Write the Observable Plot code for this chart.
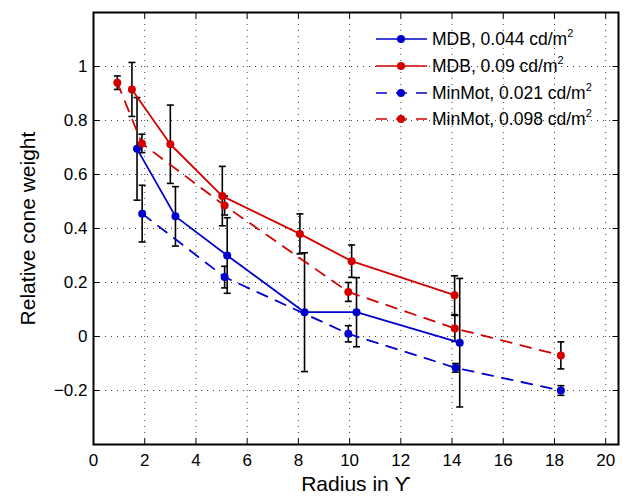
<!DOCTYPE html>
<html>
<head>
<meta charset="utf-8">
<script src="https://cdn.jsdelivr.net/npm/d3@7"></script>
<script src="https://cdn.jsdelivr.net/npm/@observablehq/plot@0.6"></script>
<style>
  body { margin: 0; background: white; }
  #wrap { position: relative; width: 635px; height: 497px; font-family: "Liberation Sans", Arial, sans-serif; }
  #legend { position: absolute; left: 0; top: 0; }
  .row { position: absolute; left: 372px; height: 24px; display: flex; align-items: center; font-size: 17.5px; white-space: nowrap; color: #000; }
  .row svg { margin-right: 4px; }
  .row sup { font-size: 11px; vertical-align: 8px; line-height: 0; }
</style>
</head>
<body>
<div id="wrap"><div id="legend"></div></div>
<script>
// ---- data ----
const seriesNames = ["MDB, 0.044 cd/m", "MDB, 0.09 cd/m", "MinMot, 0.021 cd/m", "MinMot, 0.098 cd/m"];
const seriesColors = ["#0000cc", "#d40000", "#0000cc", "#d40000"];
const seriesDash = [null, null, "11,9", "11,9"];

const radMDB044 = [1.7, 3.2, 5.22, 8.24, 10.27, 14.3];
const valMDB044 = [0.695, 0.445, 0.30, 0.09, 0.09, -0.023];
const errMDB044 = [0.19, 0.11, 0.14, 0.22, 0.128, 0.238];

const radMDB09 = [1.5, 3.0, 5.03, 8.06, 10.08, 14.1];
const valMDB09 = [0.915, 0.712, 0.52, 0.38, 0.279, 0.153];
const errMDB09 = [0.1, 0.145, 0.11, 0.074, 0.06, 0.072];

const radMM021 = [1.9, 5.12, 9.95, 14.14, 18.25];
const valMM021 = [0.455, 0.22, 0.01, -0.116, -0.2];
const errMM021 = [0.105, 0.04, 0.03, 0.016, 0.018];

const radMM098 = [0.93, 1.89, 5.12, 9.95, 14.11, 18.25];
const valMM098 = [0.94, 0.715, 0.485, 0.165, 0.03, -0.07];
const errMM098 = [0.025, 0.034, 0.035, 0.035, 0.048, 0.05];

const xTicks = [0, 2, 4, 6, 8, 10, 12, 14, 16, 18, 20];
const yTicks = [-0.4, -0.2, 0, 0.2, 0.4, 0.6, 0.8, 1, 1.2];
const yTickLabels = [-0.2, 0, 0.2, 0.4, 0.6, 0.8, 1];
const xLabel = "Radius in \u03D2";
const yLabel = "Relative cone weight";

// ---- build table ----
const rads = [radMDB044, radMDB09, radMM021, radMM098];
const vals = [valMDB044, valMDB09, valMM021, valMM098];
const errs = [errMDB044, errMDB09, errMM021, errMM098];
const rows = [];
rads.forEach((rs, s) => rs.forEach((r, i) => rows.push({s, r, v: vals[s][i], e: errs[s][i]})));

// custom symbols
const sym = (f) => ({draw(ctx) { f(ctx); }});
const capSym = sym(c => { c.moveTo(-3.5, 0); c.lineTo(3.5, 0); });
const tickUp = sym(c => { c.moveTo(0, 0); c.lineTo(0, -6); });
const tickDown = sym(c => { c.moveTo(0, 0); c.lineTo(0, 6); });
const tickRight = sym(c => { c.moveTo(0, 0); c.lineTo(6, 0); });
const tickLeft = sym(c => { c.moveTo(0, 0); c.lineTo(-6, 0); });

const marks = [
  Plot.gridX(xTicks.slice(1), {stroke: "#000", strokeOpacity: 0.75, strokeDasharray: "1,5"}),
  Plot.gridY(yTicks.slice(1, -1), {stroke: "#000", strokeOpacity: 0.75, strokeDasharray: "1,5"}),
  Plot.dot(xTicks, {x: d => d, frameAnchor: "bottom", symbol: tickUp, stroke: "black", strokeWidth: 1, r: 3}),
  Plot.dot(xTicks, {x: d => d, frameAnchor: "top", symbol: tickDown, stroke: "black", strokeWidth: 1, r: 3}),
  Plot.dot(yTicks, {y: d => d, frameAnchor: "left", symbol: tickRight, stroke: "black", strokeWidth: 1, r: 3}),
  Plot.dot(yTicks, {y: d => d, frameAnchor: "right", symbol: tickLeft, stroke: "black", strokeWidth: 1, r: 3}),
  Plot.axisX(xTicks, {tickSize: 0, tickPadding: 9, fontSize: 17, label: null}),
  Plot.axisY(yTickLabels, {tickSize: 0, tickPadding: 6, fontSize: 17, label: null, tickFormat: d => d === 0 ? "0" : (d < 0 ? "\u2212" + Math.abs(d) : String(d))}),
  Plot.ruleX(rows, {x: "r", y1: d => d.v - d.e, y2: d => d.v + d.e, stroke: "black", strokeWidth: 1.6}),
  Plot.dot(rows, {x: "r", y: d => d.v + d.e, symbol: capSym, stroke: "black", strokeWidth: 1.6, r: 3}),
  Plot.dot(rows, {x: "r", y: d => d.v - d.e, symbol: capSym, stroke: "black", strokeWidth: 1.6, r: 3}),
];
for (let s = 0; s < 4; s++) {
  const d = rows.filter(r => r.s === s);
  marks.push(Plot.line(d, {x: "r", y: "v", stroke: seriesColors[s], strokeWidth: 1.8, strokeDasharray: seriesDash[s] || undefined}));
}
for (let s = 0; s < 4; s++) {
  const d = rows.filter(r => r.s === s);
  marks.push(Plot.dot(d, {x: "r", y: "v", fill: seriesColors[s], r: 4}));
}
marks.push(Plot.frame({stroke: "black", strokeWidth: 2}));
marks.push(Plot.text([xLabel], {text: d => d, frameAnchor: "bottom", textAnchor: "middle", dy: 46, fontSize: 21}));
marks.push(Plot.text([yLabel], {text: d => d, frameAnchor: "left", textAnchor: "middle", rotate: -90, dx: -65, fontSize: 21}));

const chart = Plot.plot({
  width: 635,
  height: 497,
  marginLeft: 93,
  marginRight: 17,
  marginTop: 12,
  marginBottom: 53,
  x: {domain: [0, 20.5], label: null},
  y: {domain: [-0.4, 1.2], label: null},
  style: {fontFamily: "'Liberation Sans', Arial, sans-serif", fontSize: "17px", background: "white", color: "black"},
  marks
});
document.getElementById("wrap").prepend(chart);

// legend
const legend = document.getElementById("legend");
const rowTops = [27, 54, 81, 107];
seriesNames.forEach((name, i) => {
  const row = document.createElement("div");
  row.className = "row";
  row.style.top = rowTops[i] + "px";
  const dash = seriesDash[i] ? `stroke-dasharray="${seriesDash[i]}"` : "";
  row.innerHTML = `<svg width="56" height="24"><line x1="4" x2="55" y1="12" y2="12" stroke="${seriesColors[i]}" stroke-width="1.5" ${dash}/><circle cx="29" cy="12" r="4" fill="${seriesColors[i]}"/></svg><span>${name}<sup>2</sup></span>`;
  legend.appendChild(row);
});
</script>
</body>
</html>
